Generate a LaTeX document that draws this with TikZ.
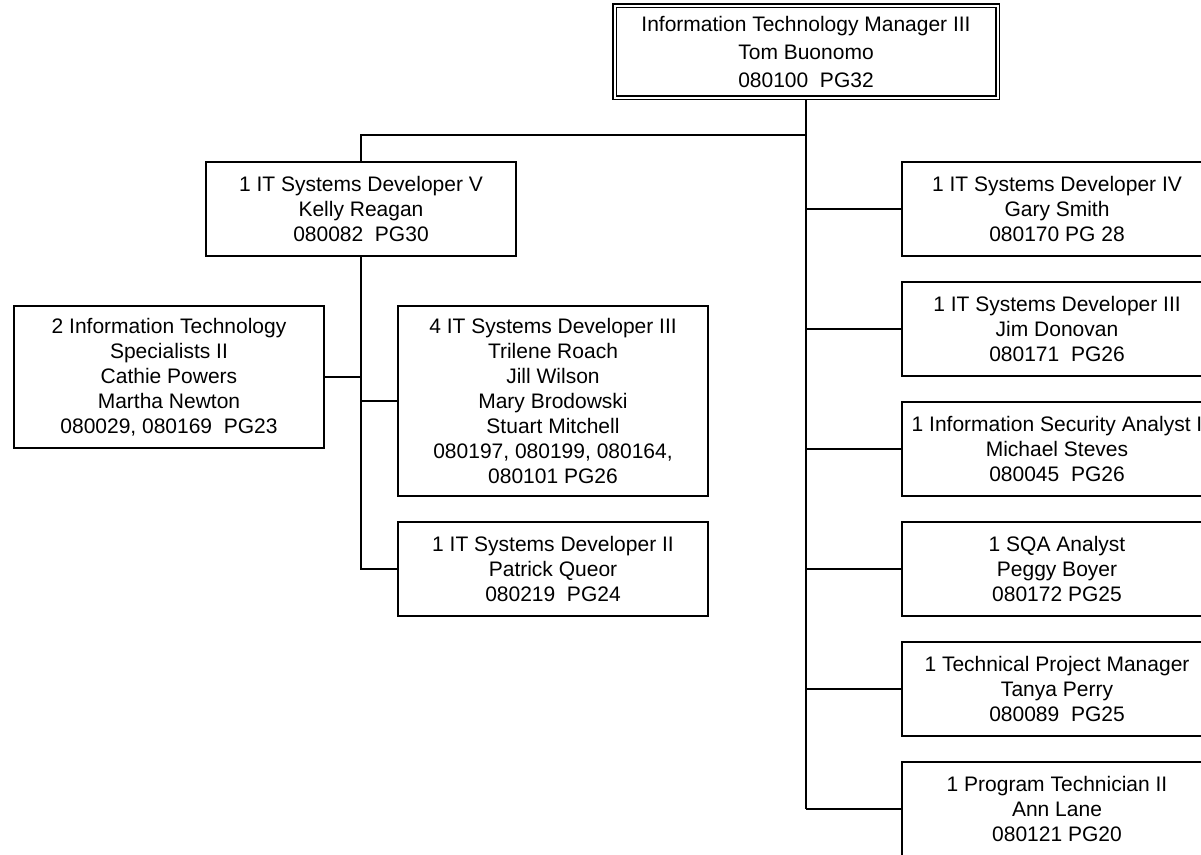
\documentclass[tikz,border=0pt]{standalone}
\usepackage{fontspec}
\setmainfont{Liberation Sans}

\begin{document}
\begin{tikzpicture}[x=1pt,y=-1pt,line width=1.8pt,
  every node/.style={draw,solid,shape=rectangle,align=center,inner sep=0pt,
    minimum width=310pt,minimum height=94pt,font=\fontsize{21}{25}\selectfont},
  headbox/.style={double,double distance=2pt,line width=1.6pt,outer sep=2.6pt,
    minimum width=383pt,minimum height=92pt,font=\fontsize{21}{28}\selectfont}]

  \useasboundingbox (0,0) rectangle (1201,854);
  \clip (0,0) rectangle (1201,854);

  % Specification of nodes (position, etc.)
  \node[headbox] (itm) at (806,51.5) {Information Technology Manager III\\Tom Buonomo\\080100\ \ PG32};
  \node (dev5) at (361,209) {1 IT Systems Developer V\\Kelly Reagan\\080082\ \ PG30};
  \node[minimum height=142pt] (spec2) at (169,377) {2 Information Technology\\Specialists II\\Cathie Powers\\Martha Newton\\080029, 080169\ \ PG23};
  \node[minimum height=190pt] (dev3a) at (553,401) {4 IT Systems Developer III\\Trilene Roach\\Jill Wilson\\Mary Brodowski\\Stuart Mitchell\\080197, 080199, 080164,\\080101 PG26};
  \node (dev2) at (553,569) {1 IT Systems Developer II\\Patrick Queor\\080219\ \ PG24};
  \node (dev4) at (1057,209) {1 IT Systems Developer IV\\Gary Smith\\080170 PG 28};
  \node (dev3b) at (1057,329) {1 IT Systems Developer III\\Jim Donovan\\080171\ \ PG26};
  \node (isa) at (1057,449) {1 Information Security Analyst I\\Michael Steves\\080045\ \ PG26};
  \node (sqa) at (1057,569) {1 SQA Analyst\\Peggy Boyer\\080172 PG25};
  \node (tpm) at (1057,689) {1 Technical Project Manager\\Tanya Perry\\080089\ \ PG25};
  \node (pt2) at (1057,809) {1 Program Technician II\\Ann Lane\\080121 PG20};
  \coordinate (split) at (806,135);

  \begin{scope}[-]
    \draw (itm.south) -- (itm.south |- pt2.west);
    \draw (dev5.north) |- (split);
    \draw (dev4.west) -- (dev4.west -| itm.south);
    \draw (dev3b.west) -- (dev3b.west -| itm.south);
    \draw (isa.west) -- (isa.west -| itm.south);
    \draw (sqa.west) -- (sqa.west -| itm.south);
    \draw (tpm.west) -- (tpm.west -| itm.south);
    \draw (pt2.west) -- (pt2.west -| itm.south);
    \draw (dev5.south) |- (dev2.west);
    \draw (spec2.east) -- (spec2.east -| dev5.south);
    \draw (dev3a.west) -- (dev3a.west -| dev5.south);
  \end{scope}

\end{tikzpicture}
\end{document}
